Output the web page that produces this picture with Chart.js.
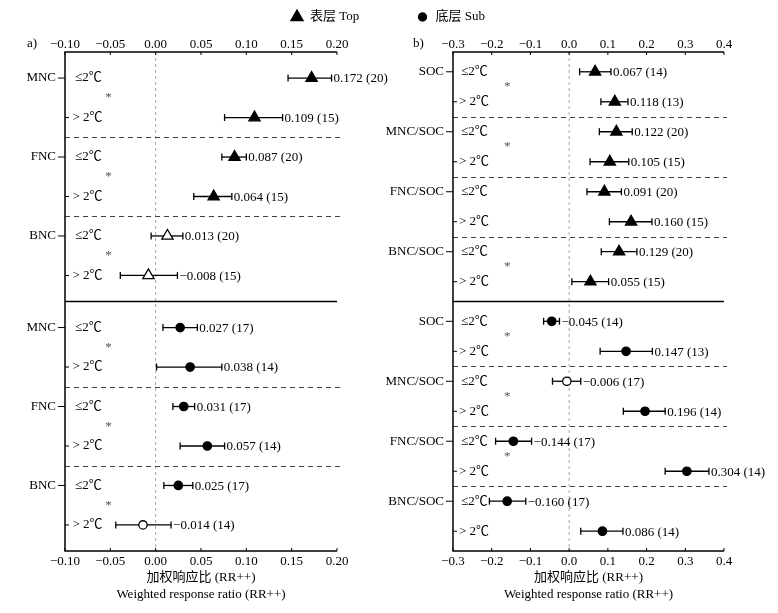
<!DOCTYPE html>
<html>
<head>
<meta charset="utf-8">
<script src="https://cdn.jsdelivr.net/npm/chart.js@4.4.0/dist/chart.umd.min.js"></script>
<style>
html, body { margin: 0; padding: 0; background: #fff; }
#wrap { position: relative; width: 778px; height: 613px; overflow: hidden; }
#wrap canvas { position: absolute; top: 0; }
</style>
</head>
<body>
<div id="wrap">
    <canvas id="chartA" width="392" height="613" style="left:0"></canvas>
    <canvas id="chartB" width="408" height="613" style="left:370px"></canvas>
</div>
<script>
const FONT = "'Liberation Serif', 'Noto Sans CJK SC', serif";

const condLabels = ['≤2℃', '> 2℃'];
const legendLabels = ['表层 Top', '底层 Sub'];
const axisTitles = ['加权响应比 (RR++)', 'Weighted response ratio (RR++)'];

// ---- panel a ----
const groupsA = ['MNC', 'FNC', 'BNC'];
const ticksA = [-0.10, -0.05, 0.00, 0.05, 0.10, 0.15, 0.20];
const topMeanA = [0.172, 0.109, 0.087, 0.064, 0.013, -0.008];
const topLoA   = [0.146, 0.076, 0.073, 0.042, -0.005, -0.039];
const topHiA   = [0.194, 0.140, 0.100, 0.084, 0.030, 0.024];
const topNA    = [20, 15, 20, 15, 20, 15];
const topFillA = [1, 1, 1, 1, 0, 0];
const subMeanA = [0.027, 0.038, 0.031, 0.057, 0.025, -0.014];
const subLoA   = [0.008, 0.001, 0.019, 0.027, 0.009, -0.044];
const subHiA   = [0.046, 0.073, 0.043, 0.076, 0.041, 0.017];
const subNA    = [17, 14, 17, 14, 17, 14];
const subFillA = [1, 1, 1, 1, 1, 0];
const topStarA = [1, 1, 1];
const subStarA = [1, 1, 1];

// ---- panel b ----
const groupsB = ['SOC', 'MNC/SOC', 'FNC/SOC', 'BNC/SOC'];
const ticksB = [-0.3, -0.2, -0.1, 0.0, 0.1, 0.2, 0.3, 0.4];
const topMeanB = [0.067, 0.118, 0.122, 0.105, 0.091, 0.160, 0.129, 0.055];
const topLoB   = [0.027, 0.082, 0.078, 0.054, 0.046, 0.104, 0.083, 0.007];
const topHiB   = [0.108, 0.152, 0.163, 0.154, 0.135, 0.214, 0.175, 0.102];
const topNB    = [14, 13, 20, 15, 20, 15, 20, 15];
const topFillB = [1, 1, 1, 1, 1, 1, 1, 1];
const subMeanB = [-0.045, 0.147, -0.006, 0.196, -0.144, 0.304, -0.160, 0.086];
const subLoB   = [-0.066, 0.080, -0.043, 0.140, -0.190, 0.248, -0.206, 0.030];
const subHiB   = [-0.025, 0.215, 0.030, 0.248, -0.097, 0.361, -0.112, 0.139];
const subNB    = [14, 13, 17, 14, 17, 14, 17, 14];
const subFillB = [1, 1, 0, 1, 1, 1, 1, 1];
const topStarB = [1, 1, 0, 1];
const subStarB = [1, 1, 1, 0];

function fmt(v, d) {
    if (Math.abs(v) < 1e-9) return (0).toFixed(d);
    return (v < 0 ? '\u2212' : '') + Math.abs(v).toFixed(d);
}

function makePanel(canvasId, p) {
    const n = p.groups.length * 2;
    const topYs = [], subYs = [];
    for (let i = 0; i < n; i++) { topYs.push(i); subYs.push(n + 0.32 + i); }
    const dividerY = n - 0.34;
    const catYs = [], catLabels = [];
    [topYs, subYs].forEach(ys => p.groups.forEach((g, k) => { catYs.push(ys[k * 2]); catLabels.push(g); }));

    const halves = [
        { mean: p.topMean, lo: p.topLo, hi: p.topHi, nn: p.topN, fill: p.topFill, star: p.topStar, ys: topYs, style: 'triangle', r: 6.5 },
        { mean: p.subMean, lo: p.subLo, hi: p.subHi, nn: p.subN, fill: p.subFill, star: p.subStar, ys: subYs, style: 'circle', r: 4.2 }
    ];

    let datasets = [];
    halves.forEach(h => {
        datasets.push({
            data: h.mean.map((m, i) => ({ x: m, y: h.ys[i] })),
            showLine: false,
            pointStyle: h.style,
            pointRadius: h.r,
            pointHoverRadius: h.r,
            pointBackgroundColor: h.fill.map(f => f ? '#000' : '#fff'),
            pointBorderColor: '#000',
            pointBorderWidth: 1.3,
            clip: false,
            order: 0
        });
        h.mean.forEach((m, i) => {
            datasets.push({
                data: [{ x: h.lo[i], y: h.ys[i] }, { x: h.hi[i], y: h.ys[i] }],
                showLine: true,
                borderColor: '#000',
                borderWidth: 1.3,
                pointStyle: 'line',
                pointRotation: 90,
                pointRadius: 3.5,
                pointHoverRadius: 3.5,
                pointBorderColor: '#000',
                pointBorderWidth: 1.3,
                clip: false,
                order: 1
            });
        });
    });

    const xTickOpts = (pad) => ({
        callback: v => fmt(v, p.dec),
        font: { family: FONT, size: 13 },
        color: '#000',
        padding: pad,
        maxRotation: 0,
        autoSkip: false
    });
    const noGrid = { display: false, drawTicks: false, tickLength: 0 };

    const drawPlugin = {
        id: 'forestDecor',
        beforeDatasetsDraw(chart) {
            const { ctx, chartArea: ca, scales: { x, y } } = chart;
            ctx.save();
            // zero line
            ctx.strokeStyle = '#a8a8a8';
            ctx.lineWidth = 1;
            ctx.setLineDash([3, 3]);
            ctx.beginPath();
            ctx.moveTo(x.getPixelForValue(0), ca.top);
            ctx.lineTo(x.getPixelForValue(0), ca.bottom);
            ctx.stroke();
            // group separators
            ctx.strokeStyle = '#444';
            ctx.setLineDash([5, 4]);
            [topYs, subYs].forEach(ys => {
                for (let g = 1; g < p.groups.length; g++) {
                    const yy = Math.round(y.getPixelForValue((ys[g * 2 - 1] + ys[g * 2]) / 2)) + 0.5;
                    ctx.beginPath();
                    ctx.moveTo(ca.left, yy);
                    ctx.lineTo(ca.right + 3, yy);
                    ctx.stroke();
                }
            });
            ctx.setLineDash([]);
            // frame
            ctx.strokeStyle = '#000';
            ctx.lineWidth = 1.5;
            ctx.beginPath();
            ctx.moveTo(ca.right, ca.top); ctx.lineTo(ca.left, ca.top);
            ctx.lineTo(ca.left, ca.bottom); ctx.lineTo(ca.right, ca.bottom);
            const dy = y.getPixelForValue(dividerY);
            ctx.moveTo(ca.left, dy); ctx.lineTo(ca.right, dy);
            ctx.stroke();
            // ticks
            ctx.lineWidth = 1;
            ctx.beginPath();
            p.ticks.forEach(t => {
                const px = x.getPixelForValue(t);
                ctx.moveTo(px, ca.top); ctx.lineTo(px, ca.top + 3);
                ctx.moveTo(px, ca.bottom); ctx.lineTo(px, ca.bottom - 3);
            });
            [topYs, subYs].forEach(ys => ys.forEach((v, i) => {
                const py = y.getPixelForValue(v);
                if (i % 2 === 0) { ctx.moveTo(ca.left - 7, py); ctx.lineTo(ca.left, py); }
                else { ctx.moveTo(ca.left, py); ctx.lineTo(ca.left + 4, py); }
            }));
            ctx.stroke();
            ctx.restore();
        },
        afterDatasetsDraw(chart) {
            const { ctx, chartArea: ca, scales: { x, y } } = chart;
            ctx.save();
            ctx.fillStyle = '#000';
            ctx.textBaseline = 'middle';
            ctx.font = '13px ' + FONT;
            halves.forEach(h => {
                h.mean.forEach((m, i) => {
                    const py = y.getPixelForValue(h.ys[i]);
                    ctx.textAlign = 'left';
                    ctx.fillText(fmt(m, 3) + ' (' + h.nn[i] + ')', x.getPixelForValue(h.hi[i]) + 2, py + 1);
                    const cond = condLabels[i % 2];
                    ctx.fillText(cond, ca.left + (i % 2 === 0 ? p.condOff[0] : p.condOff[1]), py);
                });
                ctx.fillStyle = '#555';
                h.star.forEach((s, g) => {
                    if (!s) return;
                    const py = y.getPixelForValue((h.ys[g * 2] + h.ys[g * 2 + 1]) / 2);
                    ctx.textAlign = 'center';
                    ctx.fillText('*', x.getPixelForValue(p.starX), py);
                });
                ctx.fillStyle = '#000';
            });
            // axis titles
            const cx = (ca.left + ca.right) / 2;
            ctx.textAlign = 'center';
            ctx.fillText(axisTitles[0], cx, 578);
            ctx.fillText(axisTitles[1], cx, 595);
            // panel label
            ctx.textAlign = 'left';
            ctx.fillText(p.panel, p.panelX, 44);
            // legend entry
            Chart.helpers.drawPoint(ctx, { pointStyle: p.legend.style, radius: p.legend.r, borderWidth: 1 }, p.legend.x, 17);
            ctx.fill();
            ctx.fillText(p.legend.text, p.legend.x + 13, 17);
            ctx.restore();
        }
    };

    return new Chart(document.getElementById(canvasId), {
        type: 'scatter',
        data: { datasets: datasets },
        options: {
            responsive: false,
            animation: false,
            events: [],
            layout: { padding: { left: 0, right: p.padRight, top: 0, bottom: 0 } },
            plugins: { legend: { display: false }, tooltip: { enabled: false } },
            scales: {
                x: {
                    type: 'linear', position: 'bottom', min: p.ticks[0], max: p.ticks[p.ticks.length - 1],
                    afterBuildTicks: s => { s.ticks = p.ticks.map(v => ({ value: v })); },
                    afterFit: s => { s.height = 62; },
                    ticks: xTickOpts(3),
                    grid: noGrid, border: { display: false }
                },
                x2: {
                    type: 'linear', position: 'top', axis: 'x', min: p.ticks[0], max: p.ticks[p.ticks.length - 1],
                    afterBuildTicks: s => { s.ticks = p.ticks.map(v => ({ value: v })); },
                    afterFit: s => { s.height = 52; },
                    ticks: xTickOpts(0),
                    grid: noGrid, border: { display: false }
                },
                y: {
                    type: 'linear', reverse: true, min: -0.66, max: 2 * n - 0.02,
                    afterBuildTicks: s => { s.ticks = catYs.map(v => ({ value: v })); },
                    afterFit: s => { s.width = p.yWidth; },
                    ticks: {
                        callback: (v, i) => catLabels[i],
                        font: { family: FONT, size: 13 },
                        color: '#000',
                        padding: 9,
                        autoSkip: false
                    },
                    grid: noGrid, border: { display: false }
                }
            }
        },
        plugins: [drawPlugin]
    });
}

makePanel('chartA', {
    groups: groupsA, ticks: ticksA, dec: 2,
    topMean: topMeanA, topLo: topLoA, topHi: topHiA, topN: topNA, topFill: topFillA, topStar: topStarA,
    subMean: subMeanA, subLo: subLoA, subHi: subHiA, subN: subNA, subFill: subFillA, subStar: subStarA,
    starX: -0.052, yWidth: 65, padRight: 392 - 337, condOff: [10, 7.5],
    panel: 'a)', panelX: 27,
    legend: { style: 'triangle', r: 7, x: 297, text: legendLabels[0] }
});

makePanel('chartB', {
    groups: groupsB, ticks: ticksB, dec: 1,
    topMean: topMeanB, topLo: topLoB, topHi: topHiB, topN: topNB, topFill: topFillB, topStar: topStarB,
    subMean: subMeanB, subLo: subLoB, subHi: subHiB, subN: subNB, subFill: subFillB, subStar: subStarB,
    starX: -0.16, yWidth: 83, padRight: 408 - 354, condOff: [8, 6],
    panel: 'b)', panelX: 43,
    legend: { style: 'circle', r: 4, x: 52.5, text: legendLabels[1] }
});
</script>
</body>
</html>
